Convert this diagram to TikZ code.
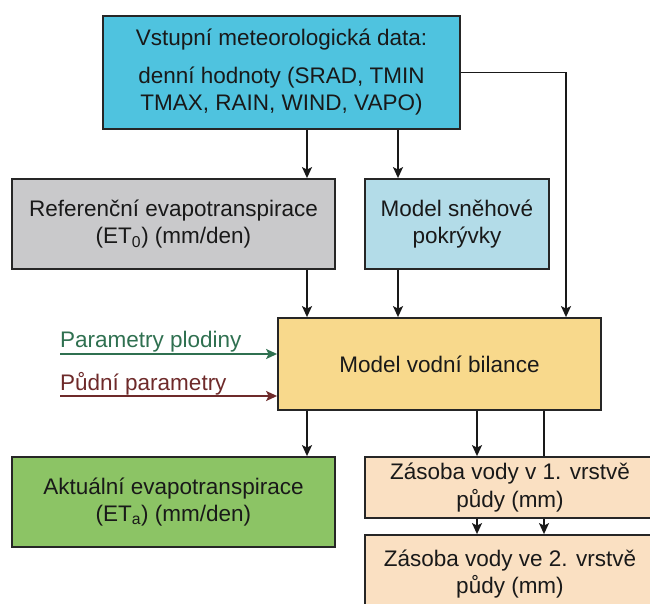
\documentclass[tikz,border=0pt]{standalone}
\usepackage{fontspec}
\setmainfont{Liberation Sans}
\usetikzlibrary{arrows.meta}
\definecolor{topc}{HTML}{4FC3DF}
\definecolor{grayc}{HTML}{C9C9CB}
\definecolor{bluec}{HTML}{B3DCE8}
\definecolor{yelc}{HTML}{F8D98C}
\definecolor{grnc}{HTML}{8CC465}
\definecolor{peachc}{HTML}{FAE0C2}
\definecolor{parg}{HTML}{2F7050}
\definecolor{parr}{HTML}{6E2A2A}
\tikzset{
  tip/.style={-{Stealth[length=11pt,width=10pt,inset=2.5pt]}},
  box/.style={draw=black!85, line width=1.8pt, align=center, inner sep=0pt,
              font=\fontsize{22.5}{27.5}\selectfont, text=black!90},
  arr/.style={line width=1.7pt, draw=black!90, tip},
  plain/.style={line width=1.7pt, draw=black!90},
  lab/.style={anchor=base west, inner sep=0pt, font=\fontsize{22.5}{27}\selectfont}
}
\begin{document}
\begin{tikzpicture}[x=1pt,y=1pt]
\useasboundingbox (0,0) rectangle (650,603);
\clip (0,0) rectangle (650,603);
% y_tikz = 603 - y_px
\node[box, fill=topc, minimum width=357, minimum height=113] (top) at (281.5,530.5)
  {Vstupní meteorologická data:\\[10pt]denní hodnoty (SRAD, TMIN\\TMAX, RAIN, WIND, VAPO)};
\node[box, fill=grayc, minimum width=323, minimum height=90] (ref) at (173.5,379)
  {Referenční evapotranspirace\\(ET\textsubscript{0}) (mm/den)};
\node[box, fill=bluec, minimum width=184, minimum height=90] (snow) at (457,379)
  {Model sněhové\\pokrývky};
\node[box, fill=yelc, minimum width=323, minimum height=92] (bil) at (439.5,239)
  {Model vodní bilance};
\node[box, fill=grnc, minimum width=323, minimum height=90] (act) at (173.5,101)
  {Aktuální evapotranspirace\\(ET\textsubscript{a}) (mm/den)};
\node[box, fill=peachc, minimum width=290, minimum height=61] (z1) at (510,115.5)
  {Zásoba vody v 1. vrstvě\\půdy (mm)};
\node[box, fill=peachc, minimum width=290, minimum height=78] (z2) at (510,29)
  {Zásoba vody ve 2. vrstvě\\půdy (mm)};
% columns
\coordinate (c1) at (307,0);
\coordinate (c2) at (398,0);
\coordinate (c3) at (566,0);
\coordinate (c4) at (477,0);
\coordinate (c5) at (544,0);
\draw[arr] (top.south -| c1) -- (ref.north -| c1);
\draw[arr] (top.south -| c2) -- (snow.north -| c2);
\draw[arr] (top.east) -| (bil.north -| c3);
\draw[arr] (ref.south -| c1) -- (bil.north -| c1);
\draw[arr] (snow.south -| c2) -- (bil.north -| c2);
\draw[arr] (bil.south -| c1) -- (act.north -| c1);
\draw[arr] (bil.south -| c4) -- (z1.north -| c4);
\draw[plain] (bil.south -| c5) -- (z1.north -| c5);
\draw[arr] (z1.south -| c4) -- (z2.north -| c4);
\draw[arr] (z1.south -| c5) -- (z2.north -| c5);
% parameters
\coordinate (pp) at (60,249);
\coordinate (pd) at (60,207);
\node[lab, text=parg] (lpp) at (60,256) {Parametry plodiny};
\node[lab, text=parr] (lpd) at (60,213) {Půdní parametry};
\draw[line width=1.7pt, parg, tip] (pp) -- (pp -| bil.west);
\draw[line width=1.7pt, parr, tip] (pd) -- (pd -| bil.west);
\end{tikzpicture}
\end{document}
